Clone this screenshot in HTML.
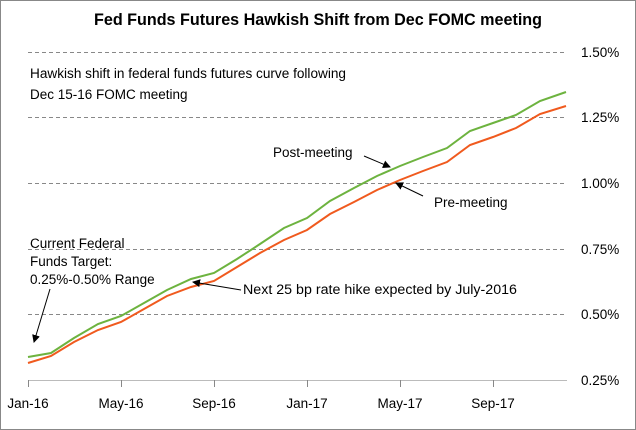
<!DOCTYPE html>
<html><head><meta charset="utf-8"><style>
html,body{margin:0;padding:0;background:#fff}
svg{display:block}
text{font-family:"Liberation Sans",sans-serif;fill:#000}
</style></head><body>
<svg width="636" height="430" viewBox="0 0 636 430">
<rect x="0.5" y="0.5" width="635" height="429" fill="#fff" stroke="#888"/>
<text x="318" y="25" text-anchor="middle" font-size="16.5" font-weight="bold" textLength="448" lengthAdjust="spacingAndGlyphs">Fed Funds Futures Hawkish Shift from Dec FOMC meeting</text>
<g stroke="#888" stroke-dasharray="4,3" stroke-width="1">
<line x1="28" x2="567" y1="52.5" y2="52.5"/>
<line x1="28" x2="567" y1="117.5" y2="117.5"/>
<line x1="28" x2="567" y1="183.5" y2="183.5"/>
<line x1="28" x2="567" y1="249.5" y2="249.5"/>
<line x1="28" x2="567" y1="314.5" y2="314.5"/>
</g>
<line x1="28" x2="567" y1="380.5" y2="380.5" stroke="#bbb"/>
<g stroke="#888">
<line x1="28.5" x2="28.5" y1="380" y2="387"/>
<line x1="121.5" x2="121.5" y1="380" y2="387"/>
<line x1="214.5" x2="214.5" y1="380" y2="387"/>
<line x1="307.5" x2="307.5" y1="380" y2="387"/>
<line x1="400.5" x2="400.5" y1="380" y2="387"/>
<line x1="493.5" x2="493.5" y1="380" y2="387"/>
</g>
<g font-size="13.5" text-anchor="start">
<text x="581" y="57">1.50%</text>
<text x="581" y="122">1.25%</text>
<text x="581" y="188">1.00%</text>
<text x="581" y="254">0.75%</text>
<text x="581" y="319">0.50%</text>
<text x="581" y="385">0.25%</text>
</g>
<g font-size="13.5" text-anchor="middle">
<text x="28" y="408">Jan-16</text>
<text x="121" y="408">May-16</text>
<text x="214" y="408">Sep-16</text>
<text x="307" y="408">Jan-17</text>
<text x="400" y="408">May-17</text>
<text x="493" y="408">Sep-17</text>
</g>
<polyline fill="none" stroke="#6db33f" stroke-width="2" points="28,357 51,353 74,338 98,324 121,316 144,303 167,290 191,279 214,273 237,259 260,244 284,228 307,218 330,201 354,188 377,176 400,166 423,157 447,148 470,131 493,123 516,115 540,101 566,92"/>
<polyline fill="none" stroke="#f05a1e" stroke-width="2" points="28,363 51,356 74,342 98,330 121,322 144,309 167,296 191,287 214,281 237,267 260,253 284,240 307,230 330,214 354,202 377,190 400,180 423,171 447,162 470,145 493,137 516,128 540,114 566,106"/>
<g font-size="13.5">
<text x="30" y="78" textLength="316" lengthAdjust="spacingAndGlyphs">Hawkish shift in federal funds futures curve following</text>
<text x="30" y="99">Dec 15-16 FOMC meeting</text>
<text x="30" y="248">Current Federal</text>
<text x="30" y="266">Funds Target:</text>
<text x="30" y="284">0.25%-0.50% Range</text>
<text x="243" y="294" textLength="274" lengthAdjust="spacingAndGlyphs">Next 25 bp rate hike expected by July-2016</text>
<text x="273" y="157">Post-meeting</text>
<text x="434" y="207">Pre-meeting</text>
</g>
<defs><marker id="a" markerWidth="8" markerHeight="8" refX="7" refY="4" orient="auto" markerUnits="userSpaceOnUse"><path d="M0,0 L8,4 L0,8 z" fill="#000"/></marker></defs>
<g stroke="#000" stroke-width="1" marker-end="url(#a)">
<line x1="50" y1="289" x2="34" y2="342"/>
<line x1="241" y1="290" x2="193" y2="282"/>
<line x1="364" y1="156" x2="390" y2="167"/>
<line x1="423" y1="196" x2="396" y2="183"/>
</g>
</svg>
</body></html>
